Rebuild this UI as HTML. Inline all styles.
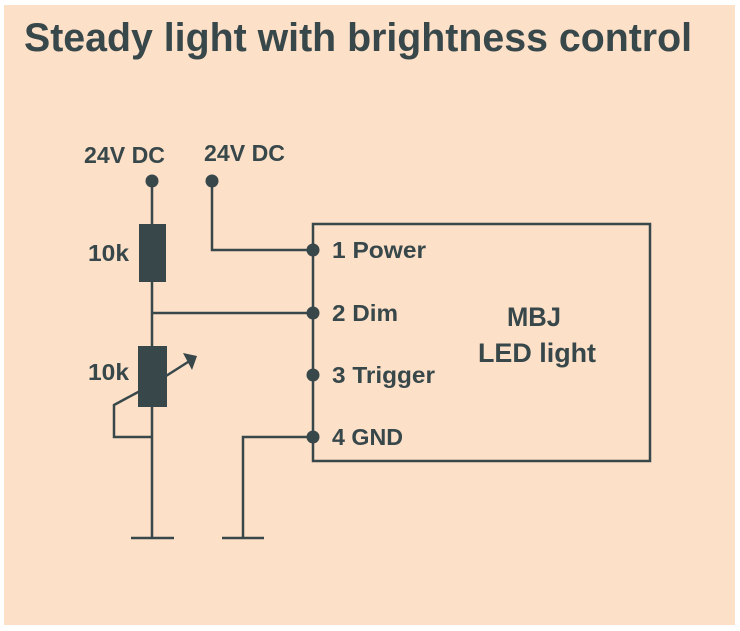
<!DOCTYPE html>
<html><head><style>
html,body{margin:0;padding:0;background:#fff;width:740px;height:631px;overflow:hidden}
svg{display:block}
text{font-family:"Liberation Sans",sans-serif;font-weight:bold;fill:#37474a}
</style></head><body>
<svg width="740" height="631" viewBox="0 0 740 631" xmlns="http://www.w3.org/2000/svg">
<rect x="4" y="5" width="731" height="620" fill="#fde0c8"/>
<text x="24" y="51" font-size="40" textLength="668" lengthAdjust="spacingAndGlyphs">Steady light with brightness control</text>
<g stroke="#37474a" stroke-width="2.5" fill="none">
<polyline points="152,181 152,538"/>
<line x1="131" y1="538" x2="174" y2="538"/>
<line x1="152" y1="313" x2="313" y2="313"/>
<polyline points="212,181 212,250 313,250"/>
<polyline points="313,437 243,437 243,538"/>
<line x1="222" y1="538" x2="264" y2="538"/>
<polyline points="152,437 114,437 114,405 140,391"/>
<line x1="166" y1="376" x2="188" y2="362"/>
<rect x="313" y="224" width="337" height="237"/>
</g>
<g fill="#37474a">
<rect x="139" y="224" width="27" height="58"/>
<rect x="138" y="346" width="29" height="61"/>
<polygon points="197,356 183,353 192,370"/>
<circle cx="152" cy="181" r="6.5"/>
<circle cx="212" cy="181" r="6.5"/>
<circle cx="313" cy="250" r="6.5"/>
<circle cx="313" cy="313" r="6.5"/>
<circle cx="313" cy="375" r="6.5"/>
<circle cx="313" cy="437" r="6.5"/>
</g>
<text x="84" y="163" font-size="23" textLength="81" lengthAdjust="spacingAndGlyphs">24V DC</text>
<text x="204" y="161" font-size="23" textLength="81" lengthAdjust="spacingAndGlyphs">24V DC</text>
<text x="88" y="261" font-size="23" textLength="41" lengthAdjust="spacingAndGlyphs">10k</text>
<text x="88" y="380" font-size="23" textLength="41" lengthAdjust="spacingAndGlyphs">10k</text>
<text x="332" y="258" font-size="23" textLength="94" lengthAdjust="spacingAndGlyphs">1 Power</text>
<text x="332" y="321" font-size="23" textLength="66" lengthAdjust="spacingAndGlyphs">2 Dim</text>
<text x="332" y="383" font-size="23" textLength="103" lengthAdjust="spacingAndGlyphs">3 Trigger</text>
<text x="332" y="445" font-size="23" textLength="71" lengthAdjust="spacingAndGlyphs">4 GND</text>
<text x="507" y="326" font-size="27" textLength="54" lengthAdjust="spacingAndGlyphs">MBJ</text>
<text x="478" y="362" font-size="27" textLength="118" lengthAdjust="spacingAndGlyphs">LED light</text>
</svg>
</body></html>
